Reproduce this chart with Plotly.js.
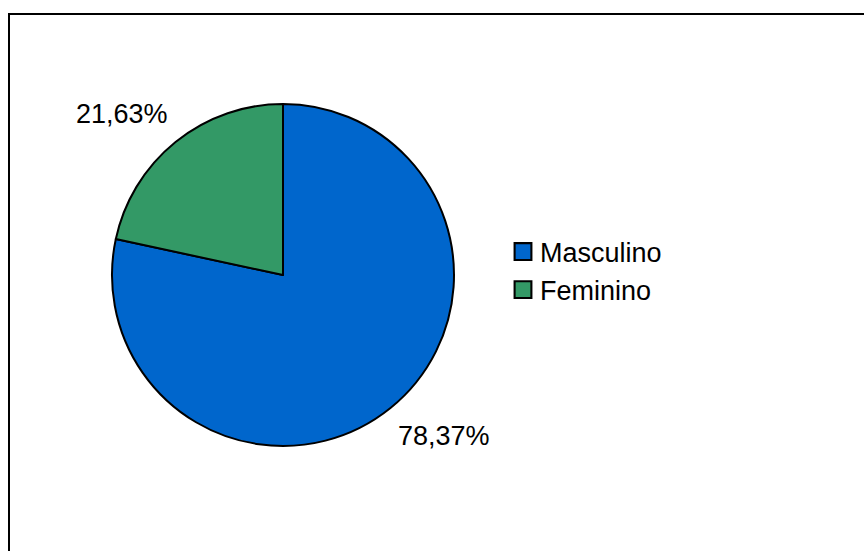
<!DOCTYPE html>
<html>
<head>
<meta charset="utf-8">
<script src="https://cdn.plot.ly/plotly-3.0.1.min.js"></script>
<style>
html,body{margin:0;padding:0;background:#fff;}
#chart{width:864px;height:551px;}
</style>
</head>
<body>
<div id="chart"></div>
<script>
var categories = ["Masculino", "Feminino"];
var values = [78.37, 21.63];
var colors = ["#0066CC", "#339966"];

var W = 864, H = 551;
var cx = 283, cy = 275, R = 171;
var FONT = "Liberation Sans, Arial, sans-serif";

var trace = {
  type: "pie",
  labels: categories,
  values: values,
  sort: false,
  direction: "clockwise",
  rotation: 0,
  marker: {colors: colors, line: {color: "#000000", width: 2}},
  textinfo: "none",
  hoverinfo: "label+percent",
  domain: {
    x: [(cx - R) / W, (cx + R) / W],
    y: [(H - cy - R) / H, (H - cy + R) / H]
  }
};

// Outside labels: placed along each slice's mid-angle (computed from the values)
var total = values.reduce(function (a, b) { return a + b; }, 0);
var annotations = [];
var cum = 0;
var rOut = 185, halfW = 45, halfH = 17;
for (var i = 0; i < values.length; i++) {
  var frac = values[i] / total;
  var mid = (cum + frac / 2) * 2 * Math.PI;
  cum += frac;
  var s = Math.sin(mid), c = Math.cos(mid);
  var px = cx + s * rOut + (s >= 0 ? 1 : -1) * halfW;
  var py = cy - c * rOut + (c >= 0 ? -1 : 1) * halfH;
  annotations.push({
    xref: "paper", yref: "paper",
    x: px / W, y: (H - py) / H,
    xanchor: "center", yanchor: "middle",
    showarrow: false,
    text: (frac * 100).toFixed(2).replace(".", ",") + "%",
    font: {family: FONT, size: 27, color: "#000000"}
  });
}

var layout = {
  width: W,
  height: H,
  margin: {l: 0, r: 0, t: 0, b: 0},
  paper_bgcolor: "#ffffff",
  separators: ",.",
  font: {family: FONT, size: 27, color: "#000000"},
  showlegend: true,
  legend: {
    x: 500 / W,
    xanchor: "left",
    y: (H - 271) / H,
    yanchor: "middle",
    font: {family: FONT, size: 27, color: "#000000"},
    bgcolor: "rgba(0,0,0,0)"
  },
  annotations: annotations,
  shapes: [{
    type: "rect",
    xref: "paper", yref: "paper",
    x0: 9 / W, x1: 1.05,
    y0: -0.05, y1: (H - 14) / H,
    line: {color: "#000000", width: 2},
    fillcolor: "rgba(0,0,0,0)",
    layer: "below"
  }]
};

Plotly.newPlot("chart", [trace], layout, {displayModeBar: false, staticPlot: true}).then(function (gd) {
  var pts = gd.querySelectorAll(".legend .legendpoints path");
  pts.forEach(function (p) {
    p.setAttribute("transform", "translate(23,0) scale(1.4)");
    p.style.strokeWidth = "1.5px";
  });
});
</script>
</body>
</html>
